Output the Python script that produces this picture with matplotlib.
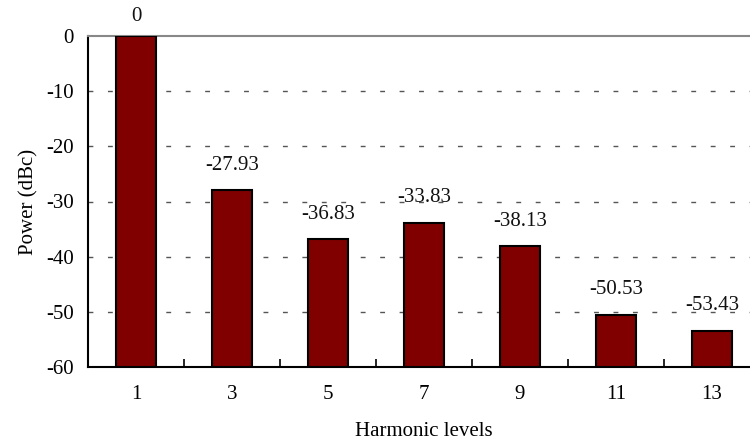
import matplotlib
matplotlib.use("Agg")
import matplotlib.pyplot as plt

categories = ["1", "3", "5", "7", "9", "11", "13"]
values = [0, -27.93, -36.83, -33.83, -38.13, -50.53, -53.43]
yticks = [0, -10, -20, -30, -40, -50, -60]

plt.rcParams['font.family'] = ['Liberation Serif', 'DejaVu Serif']

fig = plt.figure(figsize=(7.5, 4.43), dpi=100)
ax = fig.add_axes([88/750, (443-367)/443, 672/750, (367-36)/443])

x = list(range(len(categories)))
base = -60
ax.bar(x, [v - base for v in values], bottom=base, width=0.42,
       color='#800000', edgecolor='black', linewidth=1.5, zorder=3)

for xi, v in zip(x, values):
    off = 11 if v < 0 else 7
    ax.annotate(f"{v:g}", (xi, v), xytext=(0, off), textcoords='offset points',
                ha='center', va='bottom', fontsize=15, color='#111111')

ax.set_xlim(-0.5, len(categories) - 0.5)
ax.set_ylim(-60, 0)
ax.set_yticks(yticks)
ax.set_yticklabels([str(t) for t in yticks], fontsize=15)
ax.tick_params(axis='y', length=0, pad=10)

ax.set_xticks(x)
ax.set_xticklabels(categories, fontsize=15)
ax.tick_params(axis='x', which='major', length=0, pad=13)
ax.set_xticks([i + 0.5 for i in x[:-1]], minor=True)
ax.tick_params(axis='x', which='minor', direction='in', length=6, width=1.2)

for t in yticks[1:-1]:
    ax.axhline(t, color='#555555', linewidth=1, dashes=(3.5, 10.5), zorder=1)

ax.spines['top'].set_color('#888888')
ax.spines['top'].set_linewidth(1.5)
ax.spines['right'].set_visible(False)
ax.spines['left'].set_linewidth(1.5)
ax.spines['bottom'].set_linewidth(1.5)

ax.set_xlabel("Harmonic levels", fontsize=15, labelpad=13)
ax.set_ylabel("Power (dBc)", fontsize=15, labelpad=6)

fig.savefig("out.png", dpi=100)
